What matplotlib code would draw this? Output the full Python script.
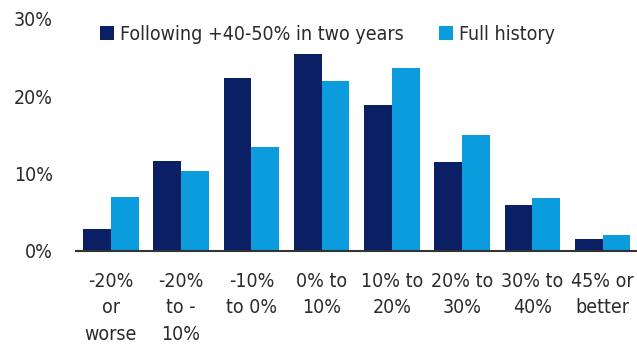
import numpy as np
import matplotlib.pyplot as plt

# ==========================
# Data
# ==========================
categories = [
    "-20%\nor\nworse",
    "-20%\nto -\n10%",
    "-10%\nto 0%",
    "0% to\n10%",
    "10% to\n20%",
    "20% to\n30%",
    "30% to\n40%",
    "45% or\nbetter",
]
following = [2.8, 11.6, 22.3, 25.4, 18.8, 11.5, 5.9, 1.5]
full_history = [6.9, 10.3, 13.4, 21.9, 23.6, 15.0, 6.8, 2.0]

yticks = [0, 10, 20, 30]

plt.rcParams["font.family"] = ["DejaVu Sans"]
plt.rcParams["font.stretch"] = "condensed"

dark = "#0B1F65"
light = "#0A9CDC"
text_color = "#2b2b2b"

fig = plt.figure(figsize=(6.37, 3.49), dpi=100)
ax = fig.add_axes([0.120, 0.2817, 0.880, 0.6645])

x = np.arange(len(categories))
w = 0.395
ax.bar(x - w / 2, following, width=w, color=dark, label="Following +40-50% in two years")
ax.bar(x + w / 2, full_history, width=w, color=light, label="Full history")

ax.set_xlim(-0.49, 7.49)
ax.set_ylim(0, 30)

ax.set_yticks(yticks)
ax.set_yticklabels([f"{v}%" for v in yticks])
ax.set_xticks(x)
ax.set_xticklabels(categories, linespacing=1.5)

ax.tick_params(axis="y", length=0, pad=17, labelsize=14, colors=text_color)
ax.tick_params(axis="x", length=0, pad=15, labelsize=14, colors=text_color)

for side in ["top", "right", "left"]:
    ax.spines[side].set_visible(False)
ax.spines["bottom"].set_color("#333333")
ax.spines["bottom"].set_linewidth(1.5)

ax.legend(
    loc="upper left",
    bbox_to_anchor=(0.01, 1.05),
    ncol=2,
    frameon=False,
    fontsize=14,
    handlelength=0.75,
    handleheight=0.75,
    handletextpad=0.3,
    columnspacing=1.8,
    labelcolor=text_color,
)

fig.savefig("out.png", dpi=100)
